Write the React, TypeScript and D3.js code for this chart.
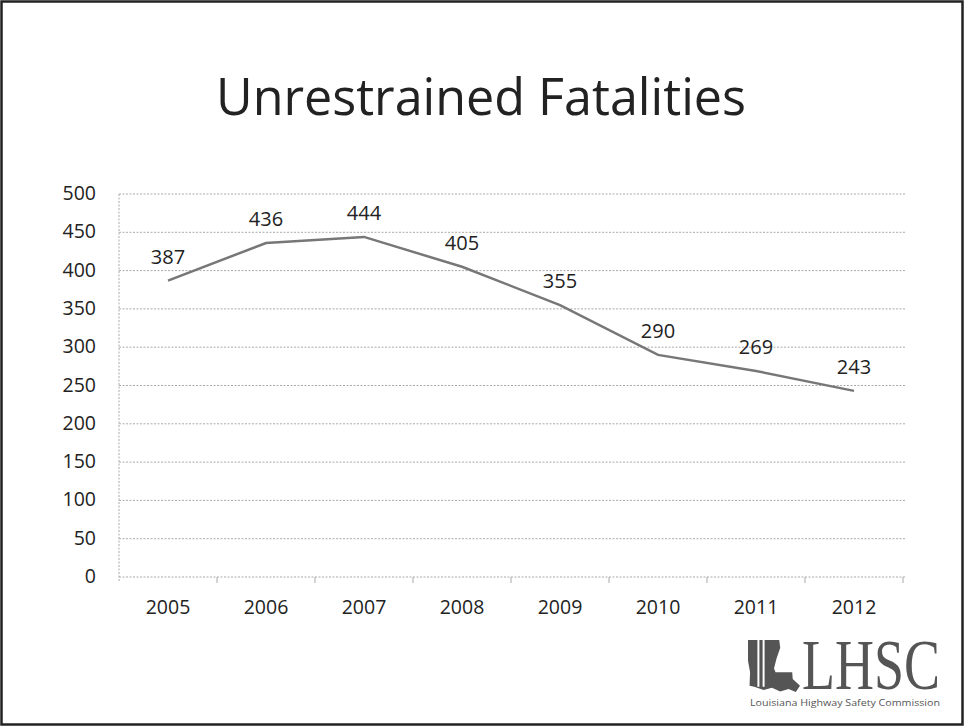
import React from "react";
import * as d3 from "d3";

const years = ["2005", "2006", "2007", "2008", "2009", "2010", "2011", "2012"];
const fatalities = [387, 436, 444, 405, 355, 290, 269, 243];
const yTicks = [0, 50, 100, 150, 200, 250, 300, 350, 400, 450, 500];
const title = "Unrestrained Fatalities";

const W = 964;
const H = 727;
const left = 119;
const right = 903;
const top = 194;
const bottom = 577;

export default function App() {
  const x = d3.scaleBand<string>().domain(years).range([left, right]).padding(0);
  const y = d3.scaleLinear().domain([0, 500]).range([bottom, top]);
  const cx = (d: string) => (x(d) as number) + x.bandwidth() / 2;
  const line = d3
    .line<number>()
    .x((_, i) => cx(years[i]))
    .y((v) => y(v));

  const font = "'Open Sans', 'Noto Sans', sans-serif";

  // Louisiana shape in normalized coords
  const la: [number, number][] = [
    [0, 0], [0.6, 0], [0.62, 0.15], [0.55, 0.35], [0.5, 0.55], [0.53, 0.62],
    [0.85, 0.62], [0.86, 0.75], [1, 0.88], [0.92, 1], [0.78, 0.94], [0.62, 0.99],
    [0.46, 0.92], [0.3, 0.96], [0.12, 0.9], [0.03, 0.88], [0.04, 0.62], [0, 0.4],
  ];
  const lx = d3.scaleLinear().domain([0, 1]).range([748, 800]);
  const ly = d3.scaleLinear().domain([0, 1]).range([640, 692]);
  const laPath = "M" + la.map(([a, b]) => `${lx(a)},${ly(b)}`).join("L") + "Z";

  return (
    <svg
      width={W}
      height={H}
      style={{ position: "absolute", left: 0, top: 0, background: "#fff" }}
    >
      <rect x={0} y={0} width={W} height={H} fill="#fff" />
      <rect x={1.5} y={1.5} width={W - 3} height={H - 4} fill="none" stroke="#222" strokeWidth={2.5} />

      <text
        x={481}
        y={115}
        textAnchor="middle"
        fontFamily={font}
        fontSize={52}
        fill="#222"
        textLength={530}
        lengthAdjust="spacingAndGlyphs"
      >
        {title}
      </text>

      {/* gridlines */}
      {yTicks.map((t) => (
        <line
          key={t}
          x1={left}
          x2={right + 2}
          y1={y(t)}
          y2={y(t)}
          stroke="#aaa"
          strokeWidth={1}
          strokeDasharray="2,1.5"
        />
      ))}
      {/* y axis */}
      <line x1={left} x2={left} y1={top} y2={bottom + 4} stroke="#aaa" strokeWidth={1} strokeDasharray="2,1.5" />
      {/* x tick marks at boundaries */}
      {years.map((d) => (
        <line
          key={d}
          x1={(x(d) as number) + x.bandwidth()}
          x2={(x(d) as number) + x.bandwidth()}
          y1={bottom}
          y2={bottom + 6}
          stroke="#aaa"
          strokeWidth={1}
        />
      ))}

      {/* y labels */}
      {yTicks.map((t) => (
        <text
          key={t}
          x={96}
          y={y(t) + 6}
          textAnchor="end"
          fontFamily={font}
          fontSize={19.5}
          fill="#222"
        >
          {t}
        </text>
      ))}
      {/* x labels */}
      {years.map((d) => (
        <text
          key={d}
          x={cx(d)}
          y={614}
          textAnchor="middle"
          fontFamily={font}
          fontSize={19.5}
          fill="#222"
        >
          {d}
        </text>
      ))}

      <path d={line(fatalities) || ""} fill="none" stroke="#777" strokeWidth={2.5} />

      {fatalities.map((v, i) => (
        <text
          key={i}
          x={cx(years[i])}
          y={y(v) - 17}
          textAnchor="middle"
          fontFamily={font}
          fontSize={20}
          fill="#222"
        >
          {v}
        </text>
      ))}

      {/* logo */}
      <path d={laPath} fill="#555" />
      {[0.2, 0.3].map((p) => (
        <line key={p} x1={lx(p)} x2={lx(p)} y1={ly(0)} y2={ly(0.9)} stroke="#fff" strokeWidth={2} />
      ))}
      <text
        transform="translate(802,689) scale(0.75,1)"
        fontFamily="'Liberation Serif', serif"
        fontSize={72}
        fill="#555"
      >
        LHSC
      </text>
      <text
        x={750}
        y={706}
        fontFamily={font}
        fontSize={9.5}
        fill="#555"
        textLength={190}
        lengthAdjust="spacingAndGlyphs"
      >
        Louisiana Highway Safety Commission
      </text>
    </svg>
  );
}
